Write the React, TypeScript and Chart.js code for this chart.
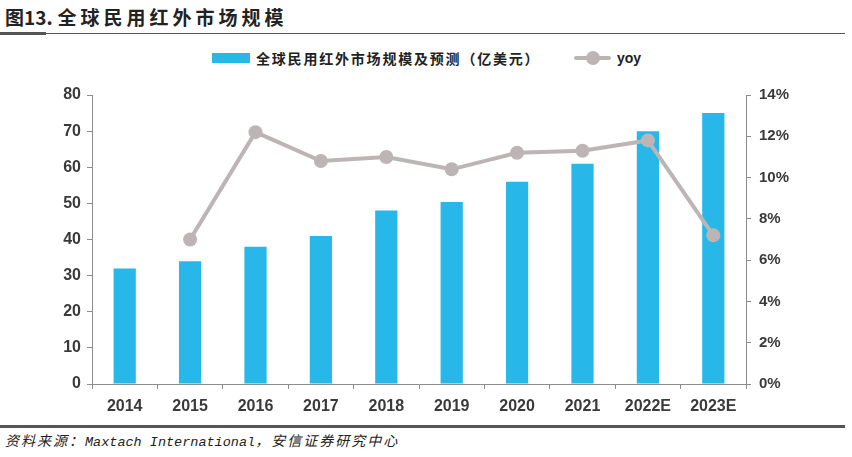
import React, { useEffect, useRef } from "react";
import { Chart, registerables } from "chart.js";

Chart.register(...registerables);

const categories = ["2014", "2015", "2016", "2017", "2018", "2019", "2020", "2021", "2022E", "2023E"];
const marketSize = [32, 34, 38, 41, 48, 50.4, 56, 61, 70, 75];
const yoy = [null, 7.0, 12.2, 10.8, 11.0, 10.4, 11.2, 11.3, 11.8, 7.2];
const leftTicks = [0, 10, 20, 30, 40, 50, 60, 70, 80];
const rightTicks = [0, 2, 4, 6, 8, 10, 12, 14];

const barColor = "#27B8E9";
const lineColor = "#BDB5B5";
const axisColor = "#8C8C8C";
const textColor = "#3A3A3A";

export default function App() {
  const ref = useRef<HTMLCanvasElement | null>(null);

  useEffect(() => {
    if (!ref.current) return;
    const chart = new Chart(ref.current, {
      type: "bar",
      data: {
        labels: categories,
        datasets: [
          {
            type: "line",
            label: "yoy",
            data: yoy as any,
            yAxisID: "y1",
            borderColor: lineColor,
            backgroundColor: lineColor,
            borderWidth: 4,
            pointRadius: 7,
            pointBackgroundColor: lineColor,
            pointBorderColor: lineColor,
            pointBorderWidth: 0,
            tension: 0,
            spanGaps: false,
          },
          {
            type: "bar",
            label: "全球民用红外市场规模及预测（亿美元）",
            data: marketSize,
            yAxisID: "y",
            backgroundColor: barColor,
            barPercentage: 0.34,
            categoryPercentage: 1,
          },
        ],
      },
      options: {
        animation: false,
        responsive: false,
        maintainAspectRatio: false,
        layout: { padding: { top: 50, left: 0, right: 0, bottom: 0 } },
        plugins: { legend: { display: false }, tooltip: { enabled: false } },
        scales: {
          x: {
            offset: true,
            grid: {
              offset: true,
              drawOnChartArea: false,
              drawTicks: true,
              tickLength: 5,
              color: axisColor,
            },
            border: { display: true, color: axisColor, width: 1 },
            ticks: {
              color: textColor,
              font: { family: "Liberation Sans, Arial", size: 16, weight: "bold" },
              padding: 8,
              maxRotation: 0,
              autoSkip: false,
            },
            afterFit: (s: any) => {
              s.height = 36;
            },
          },
          y: {
            position: "left",
            min: 0,
            max: 80,
            afterBuildTicks: (s: any) => {
              s.ticks = leftTicks.map((v) => ({ value: v }));
            },
            grid: {
              drawOnChartArea: false,
              drawTicks: true,
              tickLength: 5,
              color: axisColor,
            },
            border: { display: true, color: axisColor, width: 1 },
            ticks: {
              color: textColor,
              font: { family: "Liberation Sans, Arial", size: 16, weight: "bold" },
              padding: 6,
            },
            afterFit: (s: any) => {
              s.width = 92;
            },
          },
          y1: {
            position: "right",
            min: 0,
            max: 14,
            afterBuildTicks: (s: any) => {
              s.ticks = rightTicks.map((v) => ({ value: v }));
            },
            grid: {
              drawOnChartArea: false,
              drawTicks: true,
              tickLength: 5,
              color: axisColor,
            },
            border: { display: true, color: axisColor, width: 1 },
            ticks: {
              color: textColor,
              font: { family: "Liberation Sans, Arial", size: 15, weight: "bold" },
              padding: 8,
              callback: (v: any) => `${v}%`,
            },
            afterFit: (s: any) => {
              s.width = 106;
            },
          },
        },
      },
    });
    return () => chart.destroy();
  }, []);

  const cjk = "'Noto Sans CJK SC', sans-serif";
  const footCjk: React.CSSProperties = { fontFamily: cjk, fontSize: 14, letterSpacing: 2 };
  const footLat: React.CSSProperties = { fontFamily: "'Liberation Mono', monospace", fontSize: 13.5 };

  return (
    <div style={{ position: "absolute", left: 0, top: 0, width: 852, height: 457, background: "#fff", overflow: "hidden" }}>
      <div
        style={{
          position: "absolute",
          left: 5,
          top: 4,
          fontFamily: cjk,
          fontWeight: 700,
          fontSize: 19,
          lineHeight: "26px",
          color: "#222",
          whiteSpace: "nowrap",
        }}
      >
        <span>图13.</span>
        <span style={{ marginLeft: 5, letterSpacing: 4 }}>全球民用红外市场规模</span>
      </div>
      <div style={{ position: "absolute", left: 0, top: 33, width: 845, height: 1, background: "#555" }} />
      <div style={{ position: "absolute", left: 0, top: 32, width: 46, height: 3, background: "#555" }} />

      <div style={{ position: "absolute", left: 212, top: 53, width: 38, height: 10, background: barColor }} />
      <div
        style={{
          position: "absolute",
          left: 256,
          top: 48,
          fontFamily: cjk,
          fontWeight: 700,
          fontSize: 14,
          lineHeight: "20px",
          color: "#222",
          letterSpacing: 1.8,
          whiteSpace: "nowrap",
        }}
      >
        全球民用红外市场规模及预测（亿美元）
      </div>
      <div style={{ position: "absolute", left: 574, top: 56, width: 37, height: 4, background: lineColor, borderRadius: 2 }} />
      <div style={{ position: "absolute", left: 586, top: 51, width: 14, height: 14, borderRadius: 7, background: lineColor }} />
      <div
        style={{
          position: "absolute",
          left: 617,
          top: 48,
          fontFamily: "'Liberation Sans', Arial, sans-serif",
          fontWeight: 700,
          fontSize: 14,
          lineHeight: "20px",
          color: "#222",
        }}
      >
        yoy
      </div>

      <canvas ref={ref} width={852} height={375} style={{ position: "absolute", left: 0, top: 45, width: 852, height: 375 }} />

      <div style={{ position: "absolute", left: 0, top: 425, width: 845, height: 3, background: "#555" }} />
      <div
        style={{
          position: "absolute",
          left: 5,
          top: 430,
          fontStyle: "italic",
          lineHeight: "20px",
          color: "#222",
          whiteSpace: "nowrap",
        }}
      >
        <span style={footCjk}>资料来源：</span>
        <span style={footLat}>Maxtach International</span>
        <span style={footCjk}>，安信证券研究中心</span>
      </div>
    </div>
  );
}
